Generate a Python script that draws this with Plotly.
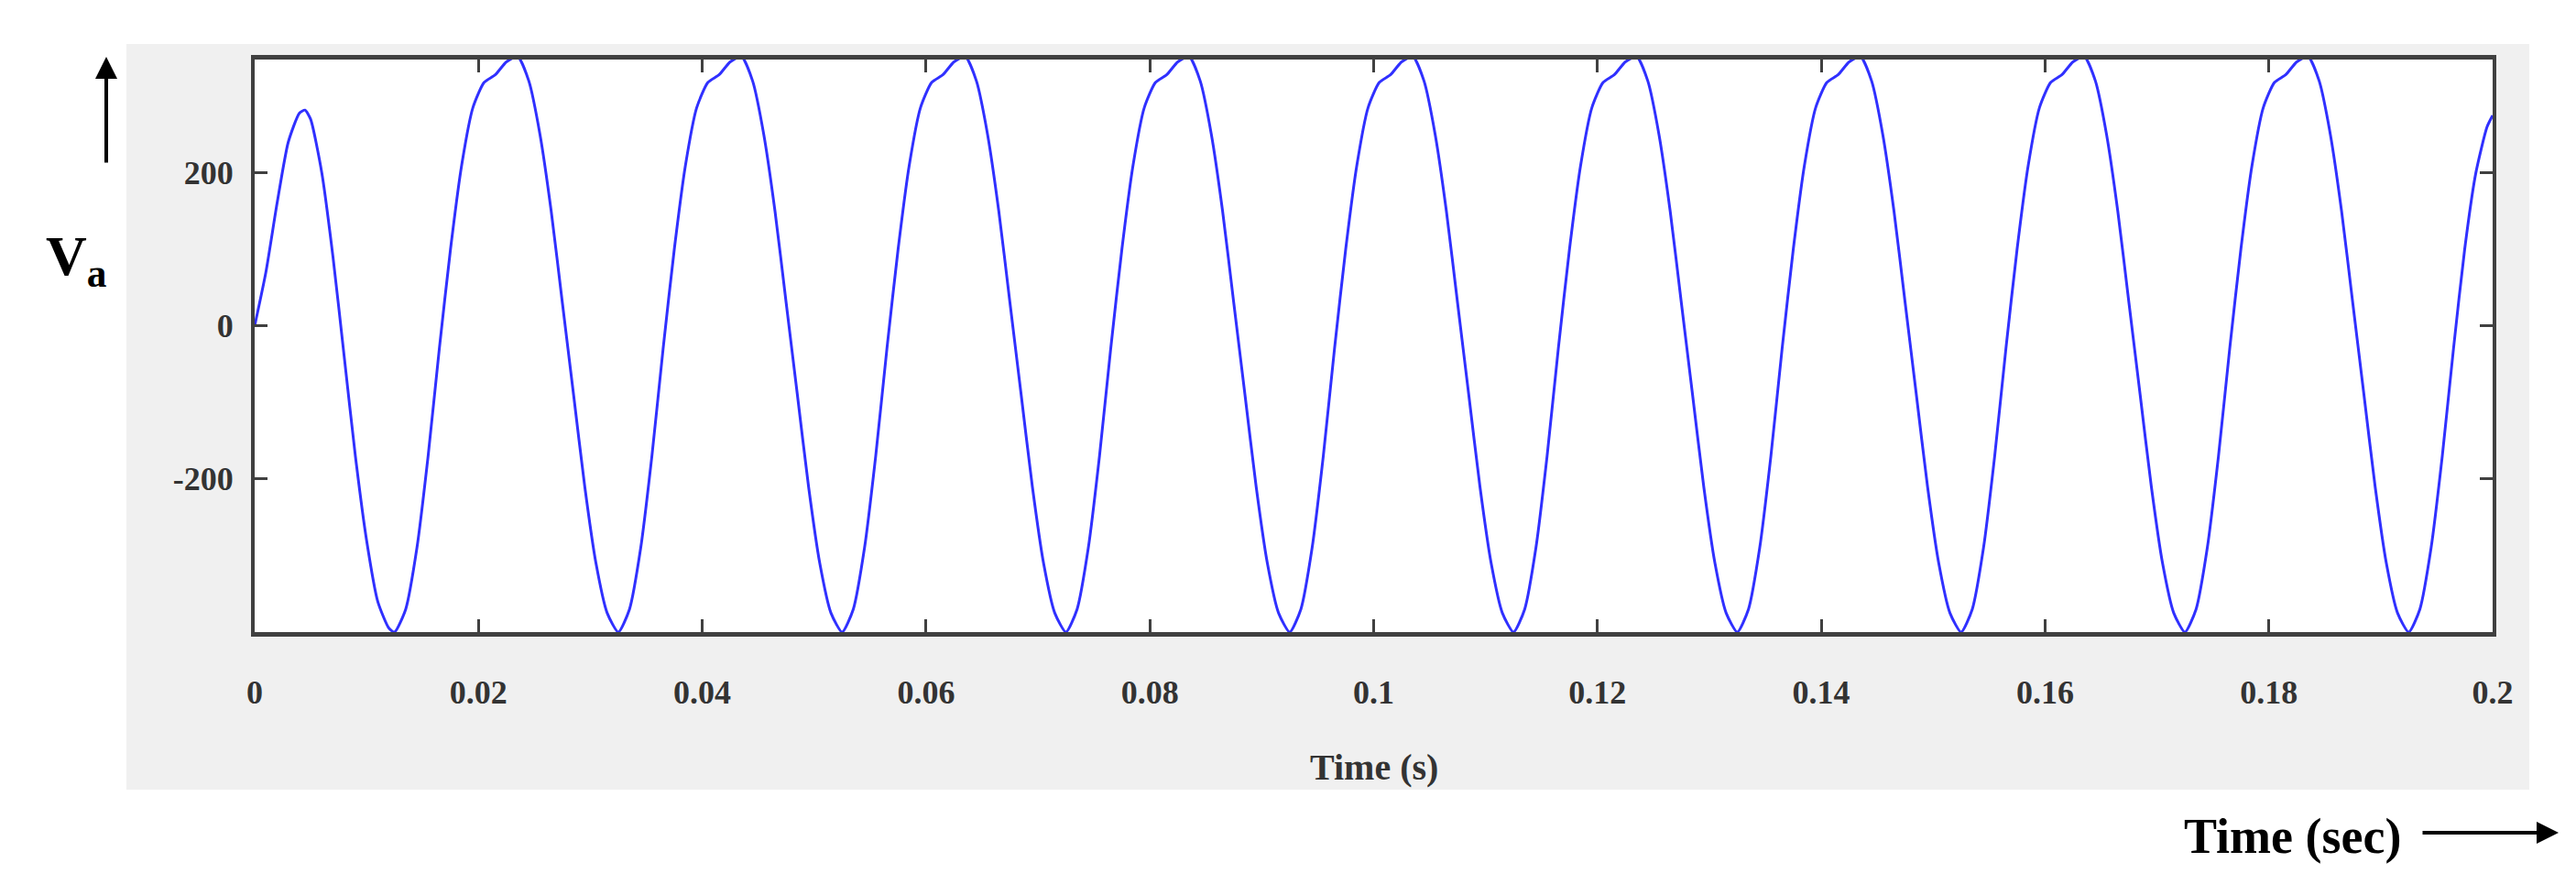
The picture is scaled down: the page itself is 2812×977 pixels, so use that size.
import plotly.graph_objects as go

# initial transient
t_start = [0.0, 0.001, 0.002, 0.003, 0.004, 0.0045, 0.005, 0.006, 0.007, 0.008, 0.009, 0.010, 0.011, 0.012]
v_start = [0, 70, 160, 240, 278, 282, 270, 200, 90, -40, -170, -280, -360, -395]

# steady-state cycle shape, offsets from each trough
cycle_offsets = [0.0, 0.001, 0.002, 0.003, 0.004, 0.005, 0.006, 0.007, 0.008, 0.009, 0.010, 0.011, 0.012, 0.013, 0.014, 0.015, 0.016, 0.017, 0.018, 0.019]
cycle_values = [-400, -370, -290, -170, -30, 100, 210, 285, 318, 328, 345, 352, 320, 250, 150, 30, -90, -210, -310, -375]
trough_times = [0.0125, 0.0325, 0.0525, 0.0725, 0.0925, 0.1125, 0.1325, 0.1525, 0.1725]

# end segment after last trough
t_end = [0.1925, 0.1935, 0.1945, 0.1955, 0.1965, 0.1975, 0.1985, 0.1995, 0.2]
v_end = [-400, -370, -290, -170, -30, 100, 200, 260, 275]

x_ticks = [0, 0.02, 0.04, 0.06, 0.08, 0.1, 0.12, 0.14, 0.16, 0.18, 0.2]
x_labels = ["0", "0.02", "0.04", "0.06", "0.08", "0.1", "0.12", "0.14", "0.16", "0.18", "0.2"]
y_ticks = [-200, 0, 200]

t = list(t_start)
v = list(v_start)
for tr in trough_times:
    for o, val in zip(cycle_offsets, cycle_values):
        t.append(tr + o)
        v.append(val)
t += t_end
v += v_end

W, H = 2812, 977
L, R, T, B = 270, 99, 57, 295
pw, ph = W - L - R, H - T - B

def px(x):
    return (x - L) / pw

def py(y):
    return (H - B - y) / ph

font = "Liberation Serif"
fig = go.Figure(go.Scatter(x=t, y=v, mode="lines", line=dict(color="#3030ff", width=3, shape="spline", smoothing=0.6), cliponaxis=True))

fig.update_layout(
    width=W, height=H, margin=dict(l=L, r=R, t=T, b=B),
    paper_bgcolor="white", plot_bgcolor="white", showlegend=False,
    shapes=[
        dict(type="rect", xref="paper", yref="paper", x0=px(130), x1=px(2753), y0=py(854), y1=py(40),
             fillcolor="#f0f0f0", line=dict(width=0), layer="below"),
        dict(type="rect", xref="paper", yref="paper", x0=0, x1=1, y0=0, y1=1,
             fillcolor="white", line=dict(width=0), layer="below"),
    ],
    annotations=[
        dict(text="<b>Time (s)</b>", xref="paper", yref="paper", x=0.5, y=py(829), showarrow=False,
             font=dict(family=font, size=40, color="#333333"), xanchor="center", yanchor="middle"),
        dict(text="<b>V<sub>a</sub></b>", xref="paper", yref="paper", x=px(75), y=py(275), showarrow=False,
             font=dict(family=font, size=62, color="black"), xanchor="center", yanchor="middle"),
        dict(text="<b>Time (sec)</b>", xref="paper", yref="paper", x=px(2615), y=py(905), showarrow=False,
             font=dict(family=font, size=54, color="black"), xanchor="right", yanchor="middle"),
        dict(text="", xref="paper", yref="paper", x=px(108), y=py(54), ax=0, ay=117,
             showarrow=True, arrowhead=2, arrowsize=1.2, arrowwidth=4, arrowcolor="black"),
        dict(text="", xref="paper", yref="paper", x=px(2785), y=py(901), ax=-150, ay=0,
             showarrow=True, arrowhead=2, arrowsize=1.2, arrowwidth=4, arrowcolor="black"),
    ],
)
fig.update_xaxes(range=[0, 0.2], tickvals=x_ticks, ticktext=["<b>%s</b>" % s for s in x_labels],
                 ticks="inside", ticklen=14, tickwidth=3, tickcolor="#404040",
                 showline=True, linewidth=5, linecolor="#404040", mirror="ticks",
                 showgrid=False, zeroline=False, ticklabelstandoff=30,
                 tickfont=dict(family=font, size=36, color="#333333"))
fig.update_yaxes(range=[-400, 348], tickvals=y_ticks, ticktext=["<b>%d</b>" % y for y in y_ticks],
                 ticks="inside", ticklen=14, tickwidth=3, tickcolor="#404040",
                 showline=True, linewidth=4, linecolor="#404040", mirror="ticks",
                 showgrid=False, zeroline=False, ticklabelstandoff=12,
                 tickfont=dict(family=font, size=36, color="#333333"))
fig.write_html("out.html")
